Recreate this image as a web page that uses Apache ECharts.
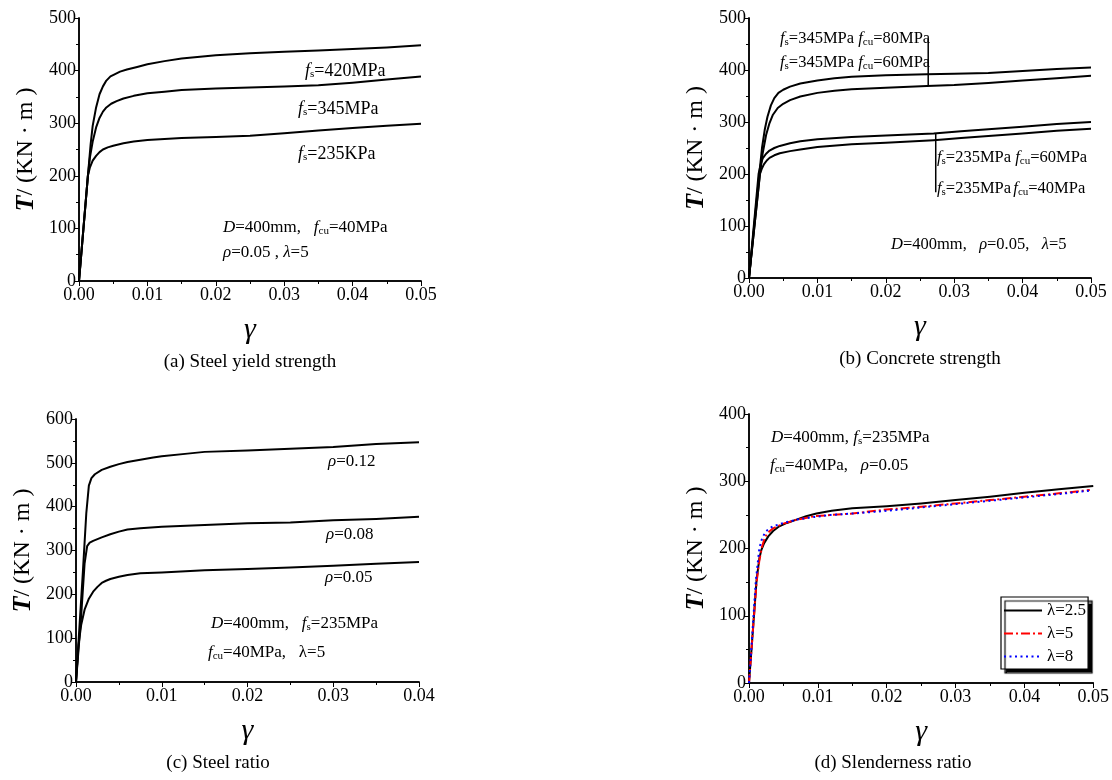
<!DOCTYPE html>
<html><head><meta charset="utf-8">
<script src="https://cdn.jsdelivr.net/npm/echarts@6/dist/echarts.min.js"></script>
<style>html,body{margin:0;padding:0;background:#fff}#c{width:1112px;height:780px}</style>
</head><body><div id="c"></div>
<script>
// ---- data: [gamma, T (kN·m)] ----
// (a) steel yield strength
const a_fs420 = [[0,0],[0.0013,200],[0.0017,260],[0.002,295],[0.0025,330],[0.003,355],[0.0035,370],[0.004,381],[0.0046,389],[0.0052,393],[0.006,398],[0.007,402],[0.0085,407],[0.01,412],[0.0125,418],[0.015,423],[0.02,429],[0.025,433],[0.03,436],[0.035,438],[0.04,441],[0.045,444],[0.05,448]];
const a_fs345 = [[0,0],[0.0013,200],[0.0016,235],[0.002,265],[0.0025,292],[0.003,310],[0.0035,322],[0.004,330],[0.0047,337],[0.0055,342],[0.0065,347],[0.008,352],[0.01,357],[0.0125,360],[0.015,363],[0.02,366],[0.025,368],[0.03,370],[0.035,372],[0.04,377],[0.045,383],[0.05,389]];
const a_fs235 = [[0,0],[0.0013,200],[0.0016,216],[0.002,229],[0.0025,238],[0.003,245],[0.0035,250],[0.0042,254],[0.005,257],[0.0065,262],[0.008,265],[0.01,268],[0.0125,270],[0.015,272],[0.02,274],[0.025,276],[0.03,281],[0.035,286],[0.04,291],[0.045,295],[0.05,299]];
// (b) concrete strength
const b_345_80 = [[0,0],[0.0015,200],[0.0019,250],[0.0023,285],[0.0027,310],[0.0032,332],[0.0037,346],[0.0043,356],[0.005,362],[0.006,368],[0.0075,374],[0.01,380],[0.0125,384],[0.015,387],[0.02,390],[0.026,392],[0.03,393],[0.035,394],[0.04,398],[0.045,402],[0.05,405]];
const b_345_60 = [[0,0],[0.0016,200],[0.002,240],[0.0025,275],[0.003,298],[0.0035,314],[0.0042,327],[0.005,335],[0.006,342],[0.0075,349],[0.01,356],[0.0125,360],[0.015,363],[0.02,366],[0.026,369],[0.03,371],[0.035,375],[0.04,380],[0.045,384],[0.05,389]];
const b_235_60 = [[0,0],[0.0014,200],[0.0017,218],[0.002,230],[0.0025,239],[0.003,245],[0.0037,250],[0.0045,254],[0.006,259],[0.0075,263],[0.01,267],[0.015,271],[0.02,274],[0.027,278],[0.031,282],[0.035,286],[0.04,291],[0.045,296],[0.05,300]];
const b_235_40 = [[0,0],[0.0016,200],[0.0019,211],[0.0022,219],[0.0026,226],[0.003,231],[0.0037,236],[0.0045,240],[0.006,244],[0.0075,247],[0.01,252],[0.015,257],[0.02,260],[0.027,265],[0.031,269],[0.035,273],[0.04,278],[0.045,283],[0.05,287]];
const b_leader1 = [[0.0262,460],[0.0262,370]];
const b_leader2 = [[0.0273,279],[0.0273,165]];
// (c) steel ratio
const c_r012 = [[0,0],[0.0008,250],[0.0012,385],[0.0015,448],[0.0018,465],[0.0022,474],[0.003,484],[0.004,491],[0.005,497],[0.006,502],[0.0075,507],[0.009,512],[0.01,515],[0.013,521],[0.015,525],[0.02,528],[0.025,532],[0.03,536],[0.035,543],[0.04,547]];
const c_r008 = [[0,0],[0.0006,150],[0.001,270],[0.0013,310],[0.0016,318],[0.002,322],[0.003,330],[0.004,337],[0.005,343],[0.006,348],[0.0075,351],[0.01,354],[0.015,358],[0.02,362],[0.025,364],[0.03,369],[0.035,372],[0.04,377]];
const c_r005 = [[0,0],[0.0003,85],[0.0006,130],[0.001,165],[0.0015,190],[0.002,206],[0.0025,217],[0.003,226],[0.0035,231],[0.004,235],[0.005,240],[0.006,244],[0.0075,248],[0.01,250],[0.015,255],[0.02,258],[0.025,261],[0.03,265],[0.035,270],[0.04,274]];
// (d) slenderness ratio
const d_l25 = [[0,0],[0.0004,55],[0.0011,153],[0.0015,185],[0.0018,198],[0.0022,208],[0.0028,218],[0.0035,226],[0.0044,233],[0.0055,238],[0.0069,243],[0.0083,248],[0.0098,252],[0.012,256],[0.015,260],[0.02,263],[0.025,267],[0.03,272],[0.035,277],[0.04,283],[0.045,288],[0.05,293]];
const d_l5  = [[0,0],[0.0004,55],[0.0011,150],[0.0015,182],[0.0019,203],[0.0022,213],[0.0026,222],[0.0035,230],[0.005,237],[0.007,243],[0.0095,248],[0.012,250],[0.015,252],[0.02,258],[0.025,262],[0.03,267],[0.035,272],[0.04,277],[0.045,282],[0.0495,287]];
const d_l8  = [[0,0],[0.0004,60],[0.001,153],[0.0015,200],[0.0019,215],[0.0024,225],[0.003,230],[0.0035,233],[0.005,238],[0.007,243],[0.0095,247],[0.012,250],[0.015,252],[0.02,256],[0.025,261],[0.03,266],[0.035,271],[0.04,276],[0.045,281],[0.0495,286]];
const legendNames = ['λ=2.5','λ=5','λ=8'];
const captions = ['(a) Steel yield strength','(b) Concrete strength','(c) Steel ratio','(d) Slenderness ratio'];
const xMax = [0.05,0.05,0.04,0.05];
const yMax = [500,500,600,400];

const SERIF = '"Liberation Serif","DejaVu Serif",serif';
const grids = [
  {left:79, top:18, width:342, height:263},
  {left:749, top:18, width:342, height:260},
  {left:76, top:419, width:343, height:263},
  {left:749, top:414, width:345, height:269}
];
const xAxes=[], yAxes=[];
grids.forEach((g,i)=>{
  const common = {min:0, axisLine:{lineStyle:{color:'#000',width:1.5}}, splitLine:{show:false}};
  xAxes.push(Object.assign({}, common, {gridIndex:i, type:'value', max:xMax[i], interval:0.01, position:'bottom',
    axisTick:{inside:false,length:5,lineStyle:{color:'#000'}}, minorTick:{show:true,splitNumber:2,length:3,lineStyle:{color:'#000'}},
    axisLabel:{color:'#000',fontFamily:SERIF,fontSize:18,margin:5,formatter:v=>v.toFixed(2)},
    name:'γ', nameLocation:'middle', nameGap:34, nameTextStyle:{fontFamily:SERIF,fontStyle:'italic',fontSize:30,color:'#000'}}));
  xAxes.push(Object.assign({}, common, {gridIndex:i, type:'value', max:xMax[i], interval:0.01, position:'top',
    axisTick:{inside:true,length:4,lineStyle:{color:'#000'}}, minorTick:{show:true,splitNumber:2,length:2,lineStyle:{color:'#000'}},
    axisLabel:{show:false}}));
  yAxes.push(Object.assign({}, common, {gridIndex:i, type:'value', max:yMax[i], interval:100, position:'left',
    axisTick:{inside:false,length:5,lineStyle:{color:'#000'}}, minorTick:{show:true,splitNumber:2,length:3,lineStyle:{color:'#000'}},
    axisLabel:{color:'#000',fontFamily:SERIF,fontSize:18,margin:3},
    name:'{t|T}/ (KN · m )', nameLocation:'middle', nameGap:40,
    nameTextStyle:{fontFamily:SERIF,fontSize:24,color:'#000',rich:{t:{fontFamily:SERIF,fontSize:26,fontStyle:'italic',fontWeight:'bold',color:'#000'}}}}));
  yAxes.push(Object.assign({}, common, {gridIndex:i, type:'value', max:yMax[i], interval:100, position:'right',
    axisTick:{inside:true,length:4,lineStyle:{color:'#000'}}, minorTick:{show:true,splitNumber:2,length:2,lineStyle:{color:'#000'}},
    axisLabel:{show:false}}));
});

function curve(name, data, gi, color, type){
  return {name, type:'line', xAxisIndex:gi*2, yAxisIndex:gi*2, data, showSymbol:false, symbol:'none',
    smooth:false, lineStyle:{color:color||'#000', width:2, type:type||'solid', join:'round'}, itemStyle:{color:color||'#000'}, z:3};
}
function leader(name, data, gi){
  return {name, type:'line', xAxisIndex:gi*2, yAxisIndex:gi*2, data, showSymbol:false, symbol:'none',
    lineStyle:{color:'#000', width:1.5}, silent:true};
}
const series = [
  curve('a420',a_fs420,0), curve('a345',a_fs345,0), curve('a235',a_fs235,0),
  curve('b34580',b_345_80,1), curve('b34560',b_345_60,1), curve('b23560',b_235_60,1), curve('b23540',b_235_40,1),
  leader('bl1',b_leader1,1), leader('bl2',b_leader2,1),
  curve('c012',c_r012,2), curve('c008',c_r008,2), curve('c005',c_r005,2),
  curve(legendNames[0],d_l25,3,'#000','solid'),
  curve(legendNames[1],d_l5,3,'#ff0000',[9,3,2,3]),
  curve(legendNames[2],d_l8,3,'#0000ff',[2,3.5])
];

function mkRich(fs){
  return {
    n:{fontFamily:SERIF,fontSize:fs,color:'#000',verticalAlign:'top',lineHeight:18},
    i:{fontFamily:SERIF,fontSize:fs,fontStyle:'italic',color:'#000',verticalAlign:'top',lineHeight:18},
    s:{fontFamily:SERIF,fontSize:11,color:'#000',verticalAlign:'bottom',lineHeight:11,padding:[13,0,0,0]},
    g:{fontSize:8,lineHeight:18,verticalAlign:'top'}
  };
}
function T(x,y,text,fs){
  fs = fs || 17;
  return {type:'text', left:x, top:y, style:{text, rich:mkRich(fs), fill:'#000', font:fs+'px '+SERIF}};
}
const graphics = [
  T(305,56,'{i|f}{s|s}{n|=420MPa}',18),
  T(298,94,'{i|f}{s|s}{n|=345MPa}',18),
  T(298,139,'{i|f}{s|s}{n|=235KPa}',18),
  T(223,213,'{i|D}{n|=400mm,   }{i|f}{s|cu}{n|=40MPa}',17),
  T(223,244,'{i|ρ}{n|=0.05 , }{i|λ}{n|=5}',17),
  T(780,24,'{i|f}{s|s}{n|=345MPa }{i|f}{s|cu}{n|=80MPa}',16.5),
  T(780,48,'{i|f}{s|s}{n|=345MPa }{i|f}{s|cu}{n|=60MPa}',16.5),
  T(937,143,'{i|f}{s|s}{n|=235MPa }{i|f}{s|cu}{n|=60MPa}',16.5),
  T(937,174,'{i|f}{s|s}{n|=235MPa}{g| }{i|f}{s|cu}{n|=40MPa}',16.5),
  T(891,236,'{i|D}{n|=400mm,   }{i|ρ}{n|=0.05,   }{i|λ}{n|=5}',16.5),
  T(328,453,'{i|ρ}{n|=0.12}',17),
  T(326,526,'{i|ρ}{n|=0.08}',17),
  T(325,569,'{i|ρ}{n|=0.05}',17),
  T(211,609,'{i|D}{n|=400mm,   }{i|f}{s|s}{n|=235MPa}',17),
  T(208,638,'{i|f}{s|cu}{n|=40MPa,   λ=5}',17),
  T(771,423,'{i|D}{n|=400mm, }{i|f}{s|s}{n|=235MPa}',17),
  T(770,451,'{i|f}{s|cu}{n|=40MPa,   }{i|ρ}{n|=0.05}',17)
];
const capPos = [[250,362],[920,359],[218,763],[893,763]];
captions.forEach((c,i)=>{
  graphics.push({type:'text', x:capPos[i][0], y:capPos[i][1], style:{text:c, font:'19px '+SERIF, fill:'#000', textAlign:'center', textVerticalAlign:'middle'}});
});

const chart = echarts.init(document.getElementById('c'), null, {renderer:'canvas'});
chart.setOption({
  animation:false,
  backgroundColor:'#fff',
  grid: grids.map(g=>Object.assign({containLabel:false, show:false}, g)),
  xAxis: xAxes, yAxis: yAxes,
  legend:{show:true, data:legendNames, orient:'vertical', left:1001, top:597, itemWidth:38, itemHeight:12, itemGap:6,
    padding:[5,2,4,2], backgroundColor:'#fff', borderColor:'#000', borderWidth:1.2,
    shadowColor:'#000', shadowBlur:1, shadowOffsetX:4, shadowOffsetY:4,
    itemStyle:{opacity:0},
    textStyle:{fontFamily:SERIF,fontSize:17,color:'#000',padding:[0,0,0,0]}, selectedMode:false},
  graphic: graphics,
  series
});
</script></body></html>
